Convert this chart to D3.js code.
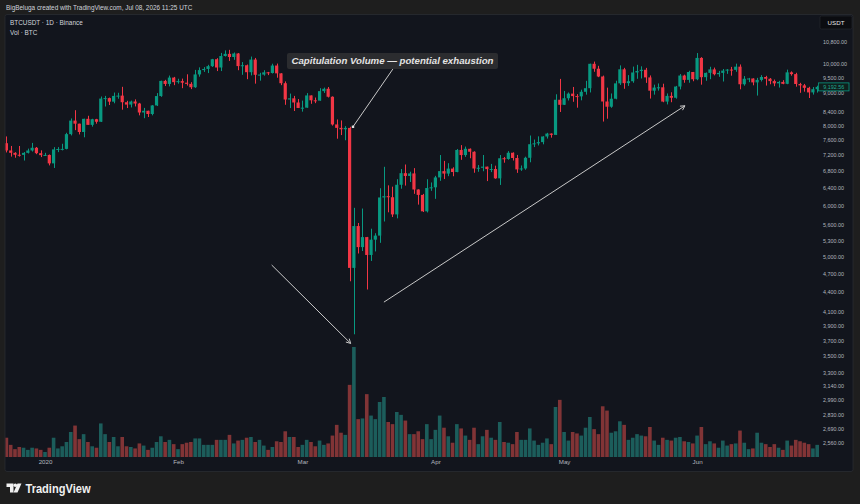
<!DOCTYPE html>
<html>
<head>
<meta charset="utf-8">
<script src="https://cdn.jsdelivr.net/npm/d3@7"></script>
<style>
  html, body { margin: 0; padding: 0; background: #1e1e1e; }
  svg { display: block; font-family: "Liberation Sans", Arial, sans-serif; }
</style>
</head>
<body>
<div id="viz"></div>
<script>
// BTCUSDT daily, Binance, 2019-12-23 .. 2020-06-29
const firstDay = new Date(Date.UTC(2019, 11, 23));
const lastDay = new Date(Date.UTC(2020, 5, 29));

const open = [7510,7317,7255,7205,7202,7254,7316,7388,7246,
  7195,7200,6985,7345,7355,7358,7758,8145,8055,7818,8197,8021,8185,8111,8815,8830,8718,8900,8909,8700,8627,8723,8660,8385,8437,8340,8600,8895,9392,9290,9505,
  9350,9385,9332,9293,9181,9613,9764,9804,9902,10152,9855,10270,10350,10234,10364,9905,9935,9690,10140,9600,9608,9686,9663,9925,9650,9315,8785,8823,8692,
  8523,8532,8915,8760,8750,9054,9131,8873,8033,7935,7895,7934,4800,5578,5172,5361,5028,5312,5390,6181,6209,6186,5816,6469,6744,6677,6738,6360,6238,5881,6394,
  6410,6642,6794,6734,6856,6772,7330,7197,7361,7283,6858,6876,6904,6843,6845,6620,7115,7097,7257,7122,6836,6859,7127,7483,7506,7539,7693,7774,7738,8778,
  8620,8826,8973,8894,8885,9032,9150,9987,9812,9542,8723,8561,8810,9310,9792,9317,9381,9681,9733,9775,9511,9068,9170,9179,8720,8900,8841,9204,9575,9427,9697,
  9448,10200,9519,9667,9789,9621,9666,9746,9782,9772,9885,9280,9465,9474,9342,9426,9525,9465,9386,9310,9358,9294,9685,9624,9288,9243,9162,9012,9117];

const high = [7695,7436,7271,7435,7275,7365,7518,7408,7320,
  7255,7212,7405,7405,7495,7796,8208,8455,8055,8200,8287,8198,8196,8880,8900,8846,9008,9000,9195,8745,8750,8790,8680,8525,8440,8610,8990,9400,9428,9575,9528,
  9465,9470,9618,9350,9770,9860,9870,9950,10165,10190,10385,10480,10500,10400,10380,10050,9960,10250,10200,9670,9760,9700,9990,9995,9655,9375,8975,8900,8800,
  8750,8990,8915,8848,9150,9170,9188,8885,8178,8150,7985,7966,5955,5640,5940,5365,5525,5436,6389,6900,6456,6425,6600,6845,6957,6780,6867,6365,6260,6599,6523,
  6679,7198,7048,6990,6888,7355,7459,7420,7370,7295,6944,7199,6904,6972,6928,7198,7148,7299,7267,7200,6933,7155,7720,7609,7697,7700,7795,7780,8952,9460,
  9059,9010,9190,8957,9100,9395,9990,10067,9915,9573,9168,8978,9398,9930,9843,9590,9888,9950,9897,9842,9578,9266,9307,9298,8979,9017,9225,9625,9605,9740,9700,
  10380,10228,9680,9881,9853,9735,9802,9800,9877,9992,9964,9557,9494,9480,9495,9589,9565,9489,9438,9395,9417,9780,9720,9670,9328,9291,9196,9187,9232];

const low = [7265,7157,7128,7157,7057,7238,7288,7220,7145,
  7175,6935,6871,7273,7319,7346,7723,7871,7750,7671,8030,7970,8055,8105,8567,8613,8667,8810,8470,8520,8538,8570,8300,8215,8250,8300,8582,8870,9220,9210,9250,
  9300,9150,9236,9120,9160,9535,9700,9660,9875,9730,9730,10250,10090,10130,9760,9600,9450,9580,9300,9400,9570,9590,9645,9500,9250,8620,8520,8430,8520,
  8411,8530,8651,8671,8750,8995,8850,8000,7632,7733,7590,4575,3782,5055,5100,4442,4921,5092,5252,5670,5860,5761,5734,6378,6450,6534,6262,6024,5866,5857,6330,
  6150,6561,6603,6672,6670,6766,7075,7150,7115,6754,6778,6791,6555,6770,6610,6465,7002,7078,7057,6751,6800,6827,7013,7406,7450,7480,7636,7661,7736,8401,
  8613,8754,8714,8531,8760,8940,9011,9705,9520,8117,8200,8528,8792,9256,9130,9224,9330,9464,9474,9326,8815,8940,9070,8700,8632,8700,8812,9110,9330,9331,9381,
  9416,9266,9396,9450,9581,9531,9372,9633,9570,9704,9113,9232,9351,9245,8910,9373,9236,9280,9215,9170,9281,9282,9570,9200,9000,9036,8833,8942,9006];

const close = [7317,7255,7204,7202,7254,7316,7388,7246,7195,
  7200,6985,7345,7355,7358,7758,8145,8055,7818,8197,8021,8185,8111,8815,8830,8718,8900,8909,8700,8627,8723,8660,8385,8437,8340,8600,8895,9392,9290,9505,9350,
  9385,9332,9293,9181,9613,9764,9804,9902,10152,9855,10270,10350,10234,10364,9905,9935,9690,10140,9600,9608,9686,9663,9925,9650,9315,8785,8823,8692,8523,
  8532,8915,8760,8750,9054,9131,8873,8033,7935,7895,7934,4800,5578,5172,5361,5028,5312,5390,6181,6209,6186,5816,6469,6744,6677,6738,6360,6238,5881,6394,6410,
  6642,6794,6734,6856,6772,7330,7197,7361,7283,6858,6876,6904,6843,6845,6620,7115,7097,7257,7122,6836,6859,7127,7483,7506,7539,7693,7774,7738,8778,8620,
  8826,8973,8894,8885,9032,9150,9987,9812,9542,8723,8561,8810,9310,9792,9317,9381,9681,9733,9775,9511,9068,9170,9179,8720,8900,8841,9204,9575,9427,9697,9448,
  10200,9519,9667,9789,9621,9666,9746,9782,9772,9885,9280,9465,9474,9342,9426,9525,9465,9386,9310,9358,9294,9685,9624,9288,9243,9162,9012,9117,9192.56];

// volume, thousand BTC
const volume = [27,17,11,14,13,10,13,12,10,
  7,13,27,12,15,21,35,44,25,32,21,15,13,47,32,21,28,15,28,15,14,12,19,16,10,13,21,29,21,24,18,
  11,18,20,21,26,26,17,17,17,24,24,24,31,19,23,24,27,28,21,24,16,10,14,22,21,36,28,28,14,
  17,24,21,15,23,17,19,30,45,34,31,101,154,53,54,88,58,53,77,84,49,46,63,59,51,32,32,36,25,46,25,
  38,58,41,29,20,46,40,30,24,41,18,29,38,27,24,49,21,20,18,35,24,24,40,23,17,20,26,18,70,80,
  35,23,35,33,30,41,56,39,32,71,65,34,36,50,45,24,27,32,30,29,42,23,17,27,24,23,27,28,22,21,19,
  30,42,18,22,19,13,23,16,18,19,37,20,11,12,34,20,18,14,18,13,10,23,16,24,22,20,18,12,17];

const priceTicks = [10800,10000,9500,9000,8400,8000,7600,7200,6800,6400,6000,5600,5300,5000,
  4700,4400,4100,3900,3700,3500,3300,3140,2990,2830,2690,2560];
const monthTicks = [new Date(Date.UTC(2020,0,1)), new Date(Date.UTC(2020,1,1)), new Date(Date.UTC(2020,2,1)),
  new Date(Date.UTC(2020,3,1)), new Date(Date.UTC(2020,4,1)), new Date(Date.UTC(2020,5,1))];
const monthLabels = ["2020","Feb","Mar","Apr","May","Jun"];

const lastPrice = 9192.56;
const noteText = "Capitulation Volume \u2014 potential exhaustion";
// drawings anchored in (date, price)
const noteLine = [[new Date(Date.UTC(2020,2,22,2)), 9800], [new Date(Date.UTC(2020,2,12,19)), 7966]];
const arrowDown = [[new Date(Date.UTC(2020,1,22,20)), 4850], [new Date(Date.UTC(2020,2,12,6)), 3660]];
const arrowUp = [[new Date(Date.UTC(2020,2,20)), 4245], [new Date(Date.UTC(2020,4,29,4)), 8590]];

document.addEventListener("DOMContentLoaded", () => {

    const width = 860;
    const height = 504;
    const green = "#089981", red = "#f23645";

    const svg = d3.select("#viz").append("svg")
        .attr("width", width)
        .attr("height", height);

    svg.append("rect").attr("width", width).attr("height", height).attr("fill", "#1e1e1e");

    svg.append("text")
        .attr("x", 6).attr("y", 10)
        .attr("fill", "#d1d4dc").attr("font-size", 6.4)
        .text("BigBeluga created with TradingView.com, Jul 08, 2026 11:25 UTC");

    // chart panel
    svg.append("rect")
        .attr("x", 5).attr("y", 14.5).attr("width", 848).attr("height", 457)
        .attr("rx", 2).attr("fill", "#12151d").attr("stroke", "#2a2c31").attr("stroke-width", 0.8);

    const data = d3.utcDay.range(firstDay, d3.utcDay.offset(lastDay, 1)).map((d, i) => ({
        date: d, o: open[i], h: high[i], l: low[i], c: close[i], v: volume[i]
    }));

    const x = d3.scaleUtc().domain([firstDay, lastDay]).range([6.4, 817.2]);
    const y = d3.scaleLog().domain([2560, 10800]).range([443, 42]);
    const yv = d3.scaleLinear().domain([0, 154]).range([457, 347]);

    svg.append("clipPath").attr("id", "plot")
        .append("rect").attr("x", 5.5).attr("y", 15).attr("width", 813.5).attr("height", 442.5);

    const plot = svg.append("g").attr("clip-path", "url(#plot)");

    // volume
    plot.append("g").selectAll("rect")
        .data(data)
        .enter()
        .append("rect")
        .attr("x", d => x(d.date) - 1.8)
        .attr("width", 3.6)
        .attr("y", d => yv(d.v))
        .attr("height", d => yv(0) - yv(d.v))
        .attr("fill", d => d.c >= d.o ? "rgba(38,166,154,0.5)" : "rgba(239,83,80,0.5)");

    // candles
    const candles = plot.append("g").selectAll("g")
        .data(data)
        .enter()
        .append("g")
        .attr("fill", d => d.c >= d.o ? green : red)
        .attr("stroke", d => d.c >= d.o ? green : red);

    candles.append("line")
        .attr("x1", d => Math.round(x(d.date)) + 0.5)
        .attr("x2", d => Math.round(x(d.date)) + 0.5)
        .attr("y1", d => y(d.h))
        .attr("y2", d => y(d.l))
        .attr("stroke-width", 1);

    candles.append("rect")
        .attr("x", d => x(d.date) - 1.6)
        .attr("width", 3.2)
        .attr("y", d => y(Math.max(d.o, d.c)))
        .attr("height", d => Math.max(1, Math.abs(y(d.o) - y(d.c))))
        .attr("stroke", "none");

    // time axis
    const xAxis = svg.append("g")
        .attr("transform", "translate(0,460)")
        .call(d3.axisBottom(x).tickValues(monthTicks).tickSize(0).tickPadding(0)
            .tickFormat((d, i) => monthLabels[i]));
    xAxis.select(".domain").remove();
    xAxis.selectAll("text").attr("fill", "#b2b5be").attr("font-size", 6.2)
        .attr("font-family", "Liberation Sans, Arial, sans-serif").attr("dy", "0.71em");

    // price axis
    const yAxis = svg.append("g")
        .attr("transform", "translate(823,0)")
        .call(d3.axisRight(y).tickValues(priceTicks).tickSize(0).tickPadding(0)
            .tickFormat(d3.format(",.2f")));
    yAxis.select(".domain").remove();
    yAxis.selectAll("text").attr("fill", "#b2b5be").attr("font-size", 5.4)
        .attr("font-family", "Liberation Sans, Arial, sans-serif");

    // last price marker
    svg.append("rect")
        .attr("x", 818.5).attr("y", y(lastPrice) - 4).attr("width", 30.5).attr("height", 8)
        .attr("fill", "#0f1f1d").attr("stroke", green).attr("stroke-width", 0.8);
    svg.append("text")
        .attr("x", 833.7).attr("y", y(lastPrice) + 2)
        .attr("text-anchor", "middle").attr("fill", "#22ab94").attr("font-size", 5.4)
        .text(d3.format(",.2f")(lastPrice));

    // currency box
    svg.append("rect")
        .attr("x", 820).attr("y", 16).attr("width", 32).attr("height", 13).attr("rx", 1.5)
        .attr("fill", "#0b0c10").attr("stroke", "#2a2c31").attr("stroke-width", 0.6);
    svg.append("text")
        .attr("x", 836).attr("y", 24.8).attr("text-anchor", "middle")
        .attr("fill", "#e6e6e6").attr("font-size", 6.2).text("USDT");

    // legend
    const legend = svg.append("g").attr("fill", "#d1d4dc").attr("font-size", 6.4);
    legend.append("text").attr("x", 10).attr("y", 25).text("BTCUSDT \u00b7 1D \u00b7 Binance");
    legend.append("text").attr("x", 10).attr("y", 35).text("Vol \u00b7 BTC");

    // drawings
    const pt = p => [x(p[0]), y(p[1])];
    const drawArrow = (seg) => {
        const [a, b] = seg.map(pt);
        svg.append("line")
            .attr("x1", a[0]).attr("y1", a[1]).attr("x2", b[0]).attr("y2", b[1])
            .attr("stroke", "#c8c8c8").attr("stroke-width", 1);
        const ang = Math.atan2(b[1] - a[1], b[0] - a[0]);
        [-0.5, 0.5].forEach(s => {
            svg.append("line")
                .attr("x1", b[0]).attr("y1", b[1])
                .attr("x2", b[0] - 5 * Math.cos(ang + s)).attr("y2", b[1] - 5 * Math.sin(ang + s))
                .attr("stroke", "#c8c8c8").attr("stroke-width", 1);
        });
    };
    drawArrow(arrowDown);
    drawArrow(arrowUp);

    const [n0, n1] = noteLine.map(pt);
    svg.append("line")
        .attr("x1", n0[0]).attr("y1", n0[1]).attr("x2", n1[0]).attr("y2", n1[1])
        .attr("stroke", "#c8c8c8").attr("stroke-width", 1);
    svg.append("rect").attr("x", n1[0] - 1.2).attr("y", n1[1] - 1.2).attr("width", 2.4).attr("height", 2.4)
        .attr("fill", "#e0e0e0");

    svg.append("rect")
        .attr("x", 287).attr("y", 53).attr("width", 211).attr("height", 16).attr("rx", 2)
        .attr("fill", "#2b2c2f");
    svg.append("text")
        .attr("x", 392.5).attr("y", 64.3).attr("text-anchor", "middle")
        .attr("fill", "#e3e3e3").attr("font-size", 8.8).attr("font-weight", "bold")
        .attr("font-style", "italic").attr("textLength", 202).attr("lengthAdjust", "spacingAndGlyphs")
        .text(noteText);

    // footer logo
    const logo = svg.append("g").attr("fill", "#f0f0f0");
    logo.append("path").attr("d", "M6.5,483.5 H13.5 V492.5 H10 V487 H6.5 Z");
    logo.append("circle").attr("cx", 15.3).attr("cy", 485.3).attr("r", 1.8);
    logo.append("path").attr("d", "M17.5,483.5 H21.5 L17.5,492.5 H13.5 Z");
    svg.append("text")
        .attr("x", 25.5).attr("y", 492.5)
        .attr("fill", "#f0f0f0").attr("font-size", 12.5).attr("font-weight", 600)
        .attr("textLength", 65).attr("lengthAdjust", "spacingAndGlyphs")
        .text("TradingView");
});
</script>
</body>
</html>
